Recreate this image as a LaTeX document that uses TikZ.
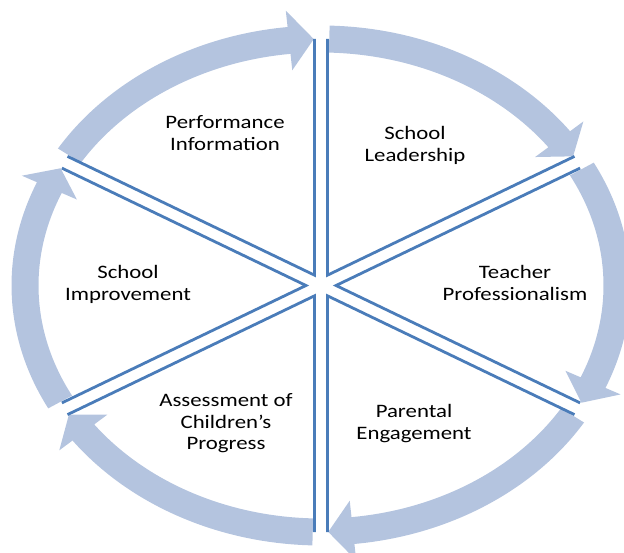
\documentclass[tikz,border=0pt]{standalone}
\usepackage{fontspec}
\setmainfont{Carlito}
\usepackage{graphicx}
\usetikzlibrary{calc}
\definecolor{ringfill}{HTML}{B4C4DF}
\definecolor{sepline}{HTML}{4A7CB9}
\newcommand\lblfont{\fontsize{19}{21.5}\selectfont}
\newcommand\sx[1]{\scalebox{1.2}[1]{\begin{tabular}{@{}c@{}}#1\end{tabular}}}
\newcommand\ringarrow[3]{%
  \fill[ringfill] ($(C)+({309.5*cos(#1)},{260*sin(#1)})$)
    arc[start angle=#1, end angle=#2, x radius=309.5, y radius=260]
    -- ($(C)+({326*cos(#2)},{276.5*sin(#2)})$)
    -- ($(C)+({296*cos(#3)},{246.5*sin(#3)})$)
    -- ($(C)+({266*cos(#2)},{216.5*sin(#2)})$)
    -- ($(C)+({282.5*cos(#2)},{233*sin(#2)})$)
    arc[start angle=#2, end angle=#1, x radius=282.5, y radius=233]
    -- cycle;}
\newcommand\wedgelines[3]{% ccw separator, cw separator, name
  \coordinate (#3a1) at ($(C)!6.5pt!-90:(#1)$);
  \coordinate (#3a2) at ($(#1)!6.5pt!90:(C)$);
  \coordinate (#3b1) at ($(C)!6.5pt!90:(#2)$);
  \coordinate (#3b2) at ($(#2)!6.5pt!-90:(C)$);
  \coordinate (#3apex) at (intersection of #3a1--#3a2 and #3b1--#3b2);
  \draw[sepstyle] (#3a2) -- (#3apex) -- (#3b2);}
\tikzset{
  sepstyle/.style={draw=sepline, line width=2.8pt, line join=miter, line cap=butt},
  lbl/.style={font=\lblfont, align=center, text=black, inner sep=0pt}
}
\begin{document}
\begin{tikzpicture}[x=1pt,y=1pt]
\useasboundingbox (0,0) rectangle (624,552);
\clip (0,0) rectangle (624,552);
\coordinate (C) at (321,266.5);
\coordinate (S1) at ($(C)+(0,246.5)$);
\coordinate (S2) at ($(C)+(256.3,123.25)$);
\coordinate (S3) at ($(C)+(256.3,-123.25)$);
\coordinate (S4) at ($(C)+(0,-246.5)$);
\coordinate (S5) at ($(C)+(-256.3,-123.25)$);
\coordinate (S6) at ($(C)+(-256.3,123.25)$);
% ring arrows: start, head base, tip (parametric angles)
\ringarrow{88.4}{36.4}{31.6}
\ringarrow{28.2}{-23.2}{-28.4}
\ringarrow{-31.8}{-83.8}{-88.6}
\ringarrow{268.4}{216.6}{211.6}
\ringarrow{208.2}{156.6}{151.6}
\ringarrow{148.2}{96.2}{91.4}
% wedge edges
\wedgelines{S1}{S2}{wa}
\wedgelines{S2}{S3}{wb}
\wedgelines{S3}{S4}{wc}
\wedgelines{S4}{S5}{wd}
\wedgelines{S5}{S6}{we}
\wedgelines{S6}{S1}{wf}
% labels
\node[lbl] (perf) at (225,417) {\sx{Performance\\Information}};
\node[lbl] (lead) at (415,406) {\sx{School\\Leadership}};
\node[lbl] (teach) at (515,267) {\sx{Teacher\\Professionalism}};
\node[lbl] (par) at (414,128) {\sx{Parental\\Engagement}};
\node[lbl] (assess) at (226,128) {\sx{Assessment of\\Children’s\\Progress}};
\node[lbl] (impr) at (128,267) {\sx{School\\Improvement}};
\end{tikzpicture}
\end{document}
